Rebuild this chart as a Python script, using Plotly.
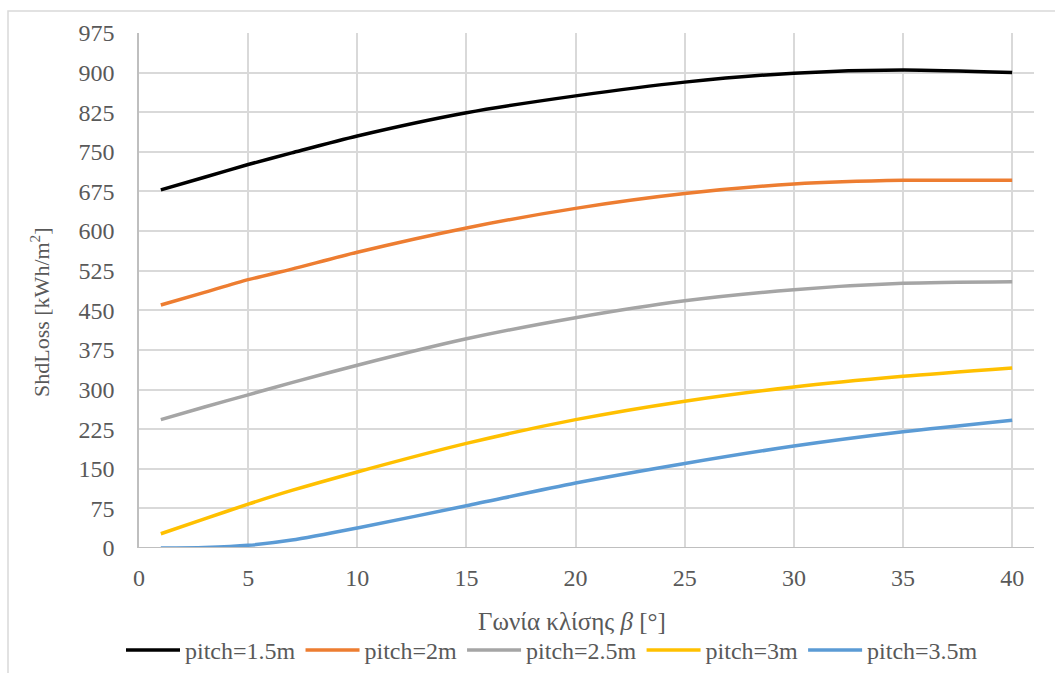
import plotly.graph_objects as go

# Tilt angle β in degrees
tilt = [1, 3, 5, 7, 10, 15, 20, 25, 30, 35, 40]

# Annual shading loss (kWh/m²) for each row pitch
loss_p15 = [678, 702, 726, 748, 780, 824, 856, 882, 899, 905, 900]
loss_p20 = [460, 484, 508, 528, 560, 606, 643, 671, 689, 696, 696]
loss_p25 = [243, 267, 290, 313, 346, 396, 436, 468, 489, 501, 504]
loss_p30 = [27, 55, 83, 109, 144, 198, 243, 278, 305, 325, 341]
loss_p35 = [0, 1, 5, 15, 38, 80, 123, 160, 193, 220, 242]

series_names = ["pitch=1.5m", "pitch=2m", "pitch=2.5m", "pitch=3m", "pitch=3.5m"]
series_values = [loss_p15, loss_p20, loss_p25, loss_p30, loss_p35]
series_colors = ["#000000", "#ED7D31", "#A5A5A5", "#FFC000", "#5B9BD5"]

y_ticks = list(range(0, 976, 75))
x_ticks = list(range(0, 41, 5))

FONT = "Liberation Serif"
TEXT = "#595959"

fig = go.Figure()
for name, vals, col in zip(series_names, series_values, series_colors):
    fig.add_trace(go.Scatter(
        x=tilt, y=vals, name=name, mode="lines",
        line=dict(color=col, width=3.5, shape="spline", smoothing=0.7),
    ))

fig.update_layout(
    width=1055, height=673,
    margin=dict(l=139, r=21, t=33, b=125),
    paper_bgcolor="white", plot_bgcolor="white",
    font=dict(family=FONT, size=24, color=TEXT),
    showlegend=True,
    legend=dict(
        orientation="h", x=(552 - 139) / 895, xanchor="center",
        yref="container", y=0.0, yanchor="bottom",
        font=dict(family=FONT, size=24, color=TEXT),
        itemwidth=54, traceorder="normal", itemclick=False,
    ),
    xaxis=dict(
        range=[0, 41], tickvals=x_ticks, ticktext=[str(v) for v in x_ticks],
        showgrid=True, gridcolor="#D9D9D9", gridwidth=1.5,
        zeroline=False, showline=False,
        ticks="outside", ticklen=8, tickcolor="rgba(0,0,0,0)",
        tickfont=dict(family=FONT, size=24, color=TEXT),
    ),
    yaxis=dict(
        range=[0, 975], tickvals=y_ticks, ticktext=[str(v) for v in y_ticks],
        showgrid=True, gridcolor="#D9D9D9", gridwidth=1.5,
        zeroline=False, showline=True, linecolor="#BFBFBF", linewidth=1.5,
        ticks="outside", ticklen=18, tickcolor="rgba(0,0,0,0)",
        tickfont=dict(family=FONT, size=24, color=TEXT),
    ),
    shapes=[
        # x axis baseline
        dict(type="line", xref="paper", yref="y", x0=0, x1=1, y0=0, y1=0,
             line=dict(color="#BFBFBF", width=2), layer="above"),
        # outer chart border
        dict(type="rect", xref="paper", yref="paper",
             x0=(8 - 139) / 895, x1=1.2, y0=-0.6, y1=1 + (33 - 11) / 515,
             line=dict(color="#D9D9D9", width=1.5), fillcolor="rgba(0,0,0,0)",
             layer="below"),
    ],
    annotations=[
        dict(text="Γωνία κλίσης <i>β</i> [°]", xref="paper", yref="paper",
             x=(572 - 139) / 895, y=-(621 - 548) / 515, xanchor="center", yanchor="middle",
             showarrow=False, font=dict(family=FONT, size=25, color=TEXT)),
        dict(text="ShdLoss [kWh/m<sup>2</sup>]", xref="paper", yref="paper",
             x=-(139 - 40) / 895, y=(548 - 312) / 515, xanchor="center", yanchor="middle",
             textangle=-90, showarrow=False, font=dict(family=FONT, size=22, color=TEXT)),
    ],
)

fig.write_html("out.html")
